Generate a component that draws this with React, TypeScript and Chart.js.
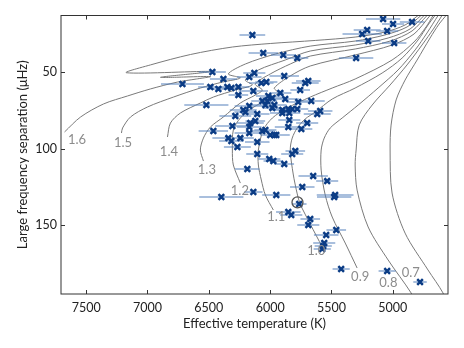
import React, { useEffect, useRef } from 'react';
import { Chart, registerables } from 'chart.js';

Chart.register(...registerables);

// ---------- Data ----------
const xTicks = [5000, 5500, 6000, 6500, 7000, 7500];
const yTicks = [50, 100, 150];

const starTeff = [
  5079, 4998, 4843, 5209, 5250, 5046, 5201, 4989, 6145, 5299,
  6056, 5893, 5779, 6471, 6381, 6715, 6487, 6422, 6349, 6316,
  6259, 6259, 6520, 6170, 6129, 5885, 6072, 6031, 5714, 5689,
  5755, 6137, 6015, 5917, 5877, 5982, 6064, 6023, 6039, 5966,
  5771, 5665, 6170, 6219, 6284, 6202, 6105, 5982, 5901, 5852,
  5820, 5779, 5901, 5844, 5616, 5592, 5844, 5698, 6162, 6121,
  6308, 6170, 5852, 5746, 6463, 6064, 6039, 6341, 6316, 6243,
  6170, 6105, 5999, 5966, 5950, 6267, 6105, 5795, 5820, 6007,
  5974, 5885, 6186, 5649, 5535, 5738, 6137, 5950, 6398, 5470,
  5478, 5852, 5828, 5673, 5689, 5543, 5461, 5559, 5567, 5575,
  5421, 5046, 4778, 5763,
];
const starDnu = [
  15.3, 18.6, 17.2, 22.5, 25.1, 23.1, 29.7, 31.0, 25.7, 40.8,
  37.5, 38.8, 40.8, 49.9, 54.5, 57.8, 59.7, 61.0, 59.7, 60.4,
  59.7, 65.0, 71.5, 53.2, 50.6, 52.5, 57.1, 56.5, 57.1, 55.8,
  61.7, 62.3, 65.6, 63.6, 67.6, 66.9, 68.9, 68.9, 71.5, 71.5,
  69.5, 68.9, 72.1, 74.8, 78.7, 76.1, 77.4, 73.4, 74.8, 74.1,
  74.1, 74.1, 76.7, 76.7, 77.4, 75.4, 81.3, 83.3, 83.3, 81.9,
  85.2, 85.9, 85.9, 87.2, 88.5, 88.5, 87.8, 93.1, 95.0, 93.1,
  89.8, 95.7, 91.1, 91.1, 91.1, 98.9, 103.5, 101.5, 103.5, 106.8,
  108.1, 110.0, 113.3, 117.9, 121.2, 125.1, 128.3, 130.3, 131.6, 130.3,
  131.6, 141.4, 143.4, 146.0, 149.9, 156.4, 153.2, 161.7, 163.7, 165.6,
  178.7, 180.0, 187.2, 136.2,
];
const starTeffErr = [
  140, 90, 100, 110, 160, 90, 100, 100, 105, 140,
  120, 100, 90, 110, 110, 175, 100, 90, 110, 80,
  90, 80, 180, 100, 90, 120, 100, 90, 110, 100,
  80, 120, 100, 90, 110, 100, 90, 80, 110, 100,
  90, 110, 120, 110, 130, 90, 100, 80, 90, 100,
  110, 90, 100, 90, 110, 100, 90, 90, 110, 80,
  140, 100, 110, 90, 120, 100, 90, 130, 100, 110,
  120, 100, 80, 90, 110, 110, 90, 80, 90, 90,
  80, 80, 100, 120, 90, 100, 75, 115, 180, 150,
  140, 100, 90, 80, 90, 100, 80, 90, 70, 70,
  70, 70, 55, 60,
];

const sunTeff = [5777];
const sunDnu = [135.1];

const trackNames = ['1.6', '1.5', '1.4', '1.3', '1.2', '1.1', '1.0', '0.9', '0.8', '0.7'];

const track16T = [7676, 7545, 7358, 7163, 6976, 6756, 6601, 6487, 6894, 6487, 7171, 6976, 6650, 6308, 5999, 5632, 5307, 5063, 4900, 4794];
const track16D = [89.1, 79.3, 70.8, 65.6, 61.0, 56.5, 54.5, 52.9, 53.4, 49.6, 50.4, 45.3, 38.5, 33.6, 31.3, 29.3, 27.1, 23.8, 19.2, 13.0];

const track15T = [7212, 7203, 7138, 7000, 6788, 6569, 6389, 6243, 6341, 6202, 5958, 5673, 5307, 5063, 4884, 4770];
const track15D = [89.8, 86.5, 79.3, 72.8, 66.3, 60.4, 56.5, 53.8, 51.2, 44.7, 38.2, 33.0, 29.7, 25.7, 20.5, 13.0];

const track14T = [6837, 6813, 6731, 6569, 6463, 6284, 6145, 6202, 6096, 5877, 5673, 5307, 5038, 4859, 4745];
const track14D = [92.4, 83.3, 76.7, 70.2, 66.3, 61.7, 58.4, 55.2, 48.6, 42.1, 36.2, 32.3, 27.7, 21.8, 13.0];

const track13T = [6544, 6569, 6544, 6487, 6381, 6243, 6121, 6064, 6121, 5999, 5836, 5673, 5307, 5022, 4843, 4721];
const track13D = [108.1, 100.9, 93.1, 85.9, 79.3, 70.2, 65.0, 61.7, 57.8, 51.2, 44.7, 39.5, 34.9, 29.7, 23.1, 13.0];

const track12T = [6243, 6300, 6308, 6300, 6243, 6145, 6015, 5934, 5966, 5836, 5673, 5307, 5006, 4827, 4696];
const track12D = [122.5, 110.7, 100.9, 87.8, 80.0, 73.4, 67.6, 63.6, 60.4, 52.5, 46.0, 38.8, 32.3, 25.1, 13.0];

const track11T = [5974, 6039, 6072, 6096, 6096, 6056, 5982, 5860, 5673, 5494, 5307, 5006, 4827, 4729, 4672];
const track11D = [140.1, 130.3, 120.5, 110.7, 100.9, 87.8, 80.0, 73.4, 66.3, 60.4, 54.5, 42.1, 30.3, 20.5, 13.0];

const track10T = [5575, 5673, 5755, 5779, 5812, 5836, 5820, 5779, 5714, 5632, 5494, 5307, 5087, 4924, 4794, 4713, 4656];
const track10D = [164.3, 149.3, 136.2, 129.6, 116.6, 100.9, 93.1, 86.5, 80.6, 76.1, 67.6, 60.4, 50.6, 40.8, 29.0, 19.2, 13.0];

const track09T = [5291, 5388, 5494, 5551, 5584, 5584, 5559, 5510, 5413, 5282, 5120, 4957, 4818, 4721, 4631];
const track09D = [178.0, 161.7, 144.7, 130.3, 114.0, 100.9, 93.1, 86.5, 80.0, 71.5, 60.4, 48.6, 35.5, 24.4, 13.0];

const track08T = [4810, 4851, 5038, 5201, 5291, 5307, 5299, 5274, 5168, 5022, 4884, 4762, 4664, 4599];
const track08D = [202.2, 194.3, 172.8, 151.2, 127.1, 110.7, 100.9, 84.6, 71.5, 58.4, 45.3, 32.3, 21.2, 13.0];

const track07T = [4558, 4591, 4713, 4900, 5006, 5022, 5014, 4973, 4900, 4802, 4696, 4623, 4566];
const track07D = [202.2, 194.3, 179.3, 155.2, 129.0, 100.9, 84.6, 68.2, 55.2, 42.1, 27.7, 18.6, 13.0];

const trackLabelT = [7574, 7199, 6825, 6516, 6247, 5950, 5624, 5266, 5036, 4853];
const trackLabelD = [94.4, 96.3, 102.2, 114.0, 127.4, 144.7, 166.6, 183.7, 188.0, 181.1];

const tracksT = [track16T, track15T, track14T, track13T, track12T, track11T, track10T, track09T, track08T, track07T];
const tracksD = [track16D, track15D, track14D, track13D, track12D, track11D, track10D, track09D, track08D, track07D];

const FONT = 'Lato, "DejaVu Sans", sans-serif';

const decorPlugin = {
  id: 'decor',
  afterDatasetsDraw(chart: any) {
    const { ctx, chartArea } = chart;
    const xs = chart.scales.x;
    const ys = chart.scales.y;
    ctx.save();
    // track labels
    ctx.fillStyle = '#8c8c8c';
    ctx.font = `13px ${FONT}`;
    ctx.textAlign = 'center';
    ctx.textBaseline = 'middle';
    trackNames.forEach((name, i) => {
      ctx.fillText(name, xs.getPixelForValue(trackLabelT[i]), ys.getPixelForValue(trackLabelD[i]));
    });
    // frame
    ctx.strokeStyle = '#333';
    ctx.lineWidth = 1;
    ctx.strokeRect(chartArea.left, chartArea.top, chartArea.right - chartArea.left, chartArea.bottom - chartArea.top);
    // inward ticks
    const L = 4;
    ctx.beginPath();
    xTicks.forEach((v) => {
      const p = Math.round(xs.getPixelForValue(v)) + 0.5;
      ctx.moveTo(p, chartArea.bottom);
      ctx.lineTo(p, chartArea.bottom - L);
      ctx.moveTo(p, chartArea.top);
      ctx.lineTo(p, chartArea.top + L);
    });
    yTicks.forEach((v) => {
      const p = Math.round(ys.getPixelForValue(v)) + 0.5;
      ctx.moveTo(chartArea.left, p);
      ctx.lineTo(chartArea.left + L, p);
      ctx.moveTo(chartArea.right, p);
      ctx.lineTo(chartArea.right - L, p);
    });
    ctx.stroke();
    ctx.restore();
  },
};

export default function App() {
  const ref = useRef<HTMLCanvasElement | null>(null);

  useEffect(() => {
    if (!ref.current) return;

    const trackSets = tracksT.map((tt, i) => ({
      label: 'M=' + trackNames[i],
      data: tt.map((t, j) => ({ x: t, y: tracksD[i][j] })),
      showLine: true,
      borderColor: '#7a7a7a',
      borderWidth: 1,
      pointRadius: 0,
      tension: 0.3,
      order: 5,
    }));

    const errData: any[] = [];
    starTeff.forEach((t, i) => {
      errData.push({ x: t - starTeffErr[i], y: starDnu[i] });
      errData.push({ x: t + starTeffErr[i], y: starDnu[i] });
      errData.push({ x: t, y: null });
    });

    const chart = new Chart(ref.current, {
      type: 'scatter',
      data: {
        datasets: [
          ...trackSets,
          {
            label: 'errors',
            data: errData,
            showLine: true,
            spanGaps: false,
            borderColor: 'rgba(80,126,186,0.65)',
            borderWidth: 1.5,
            pointRadius: 0,
            order: 3,
          },
          {
            label: 'stars',
            data: starTeff.map((t, i) => ({ x: t, y: starDnu[i] })),
            pointStyle: 'crossRot',
            pointRadius: 4,
            borderWidth: 2.5,
            borderColor: '#0b3c85',
            backgroundColor: '#0b3c85',
            order: 2,
          },
          {
            label: 'Sun',
            data: sunTeff.map((t, i) => ({ x: t, y: sunDnu[i] })),
            pointStyle: 'circle',
            pointRadius: 5.5,
            borderWidth: 1.3,
            borderColor: '#555',
            backgroundColor: 'rgba(0,0,0,0)',
            order: 1,
          },
        ] as any,
      },
      options: {
        animation: false,
        responsive: false,
        devicePixelRatio: 1,
        layout: { padding: { left: 11, top: 15.5, right: 16, bottom: 12 } },
        plugins: { legend: { display: false }, tooltip: { enabled: false } },
        scales: {
          x: {
            type: 'linear',
            reverse: true,
            min: 4550,
            max: 7705,
            afterBuildTicks: (s: any) => {
              s.ticks = xTicks.map((v) => ({ value: v }));
            },
            afterFit: (s: any) => {
              s.height = 42;
            },
            grid: { display: false, drawTicks: false },
            border: { display: false },
            ticks: {
              padding: 6,
              color: '#222',
              font: { family: FONT, size: 12.5 },
              callback: (v: any) => String(v),
            },
            title: {
              display: true,
              text: 'Effective temperature (K)',
              color: '#222',
              font: { family: FONT, size: 13 },
              padding: { top: 4, bottom: 4 },
            },
          },
          y: {
            type: 'linear',
            reverse: true,
            min: 13,
            max: 195,
            afterBuildTicks: (s: any) => {
              s.ticks = yTicks.map((v) => ({ value: v }));
            },
            afterFit: (s: any) => {
              s.width = 50;
            },
            grid: { display: false, drawTicks: false },
            border: { display: false },
            ticks: {
              padding: 4,
              color: '#222',
              font: { family: FONT, size: 12.5 },
              callback: (v: any) => String(v),
            },
            title: {
              display: true,
              text: 'Large frequency separation (μHz)',
              color: '#222',
              font: { family: FONT, size: 13 },
              padding: { top: 4, bottom: 4 },
            },
          },
        },
      },
      plugins: [decorPlugin],
    });

    return () => chart.destroy();
  }, []);

  return (
    <div style={{ position: 'fixed', left: 0, top: 0, width: 464, height: 348, background: '#fff' }}>
      <canvas ref={ref} width={464} height={348} style={{ width: 464, height: 348 }} />
    </div>
  );
}
